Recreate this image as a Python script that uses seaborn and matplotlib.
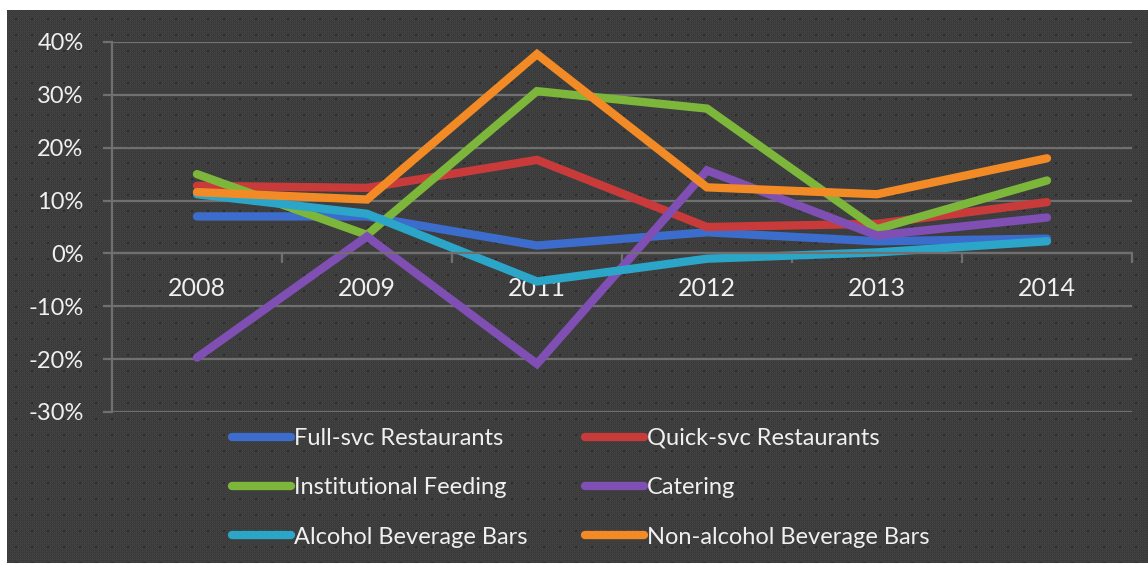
import matplotlib
matplotlib.use("Agg")
import matplotlib.pyplot as plt
from matplotlib.ticker import FixedLocator, FuncFormatter
import numpy as np
import pandas as pd
import seaborn as sns

# Year-over-year growth (%) by food-service segment
years = ["2008", "2009", "2011", "2012", "2013", "2014"]
full_svc = [7.0, 7.0, 1.5, 4.0, 2.3, 2.8]
quick_svc = [12.8, 12.4, 17.7, 5.0, 5.6, 9.7]
institutional = [15.0, 3.5, 30.7, 27.4, 4.6, 13.8]
catering = [-19.7, 3.2, -20.9, 15.7, 3.4, 6.8]
alcohol_bars = [11.2, 7.5, -5.3, -1.0, 0.2, 2.3]
non_alcohol_bars = [11.6, 10.2, 37.7, 12.5, 11.2, 18.0]

series_names = ["Full-svc Restaurants", "Quick-svc Restaurants", "Institutional Feeding",
                "Catering", "Alcohol Beverage Bars", "Non-alcohol Beverage Bars"]
series_values = [full_svc, quick_svc, institutional, catering, alcohol_bars, non_alcohol_bars]
series_colors = ["#3d6dcc", "#c93b3b", "#7cb63a", "#7f4fb4", "#2ba6c9", "#f28b26"]
y_ticks = [-30, -20, -10, 0, 10, 20, 30, 40]

rows = []
for name, vals in zip(series_names, series_values):
    for i, (yr, v) in enumerate(zip(years, vals)):
        rows.append({"pos": i, "year": yr, "segment": name, "growth": v})
df = pd.DataFrame(rows)

sns.set_style("dark")
plt.rcParams["font.family"] = ["Lato", "DejaVu Sans"]

W, H = 1148, 563
fig = plt.figure(figsize=(W / 100, H / 100), dpi=100, facecolor="white")

# dark chart area with a fine mesh fill pattern
bw, bh = W - 7, H - 10
bg_ax = fig.add_axes([7 / W, 0, bw / W, bh / H], zorder=-1)
yy, xx = np.mgrid[0:bh, 0:bw]
mesh = np.full((bh, bw), 0.245)
mesh[(xx % 2 == 0) | (yy % 2 == 0)] = 0.25 + 0.005
mesh[(xx % 2 == 0) & (yy % 2 == 0)] = 0.215
mesh[(xx % 2 == 1) ^ (yy % 2 == 1)] = 0.255
dots = ((xx % 16) // 2 == 4) & ((yy % 16) // 2 == 4)
mesh[dots] = 0.17
bg_ax.imshow(mesh, cmap="gray", vmin=0, vmax=1, interpolation="nearest",
             aspect="auto", extent=(0, 1, 0, 1))
bg_ax.set_xticks([])
bg_ax.set_yticks([])
for s in bg_ax.spines.values():
    s.set_visible(False)

ax = fig.add_axes([112 / W, 1 - 412 / H, 1020 / W, 370 / H], zorder=1)
ax.set_facecolor("none")

palette = dict(zip(series_names, series_colors))
sns.lineplot(data=df, x="pos", y="growth", hue="segment", hue_order=series_names,
             palette=palette, linewidth=6, ax=ax, legend=True, sort=False,
             solid_capstyle="round", solid_joinstyle="miter")

grid_col = "#707070"
txt_col = "#f0f0f0"
ax.set_xlim(-0.5, len(years) - 0.5)
ax.set_ylim(y_ticks[0], y_ticks[-1])
ax.set_xlabel("")
ax.set_ylabel("")

ax.yaxis.set_major_locator(FixedLocator(y_ticks))
ax.yaxis.set_major_formatter(FuncFormatter(lambda v, p: f"{v:.0f}%"))
ax.grid(axis="y", color=grid_col, linewidth=1.6, zorder=0.5)
ax.grid(axis="x", visible=False)
ax.set_axisbelow(True)

ax.set_xticks(range(len(years)))
ax.set_xticklabels(years)
ax.set_xticks(np.arange(-0.5, len(years), 1.0), minor=True)

for s in ["top", "right"]:
    ax.spines[s].set_visible(False)
ax.spines["left"].set_color(grid_col)
ax.spines["left"].set_linewidth(1.6)
ax.spines["bottom"].set_position(("data", 0))
ax.spines["bottom"].set_color(grid_col)
ax.spines["bottom"].set_linewidth(1.6)

ax.tick_params(axis="y", which="major", length=6.5, width=1.6, color=grid_col,
               pad=14, labelsize=17, labelcolor=txt_col, left=True)
ax.tick_params(axis="x", which="major", length=0, pad=17, labelsize=18, labelcolor=txt_col)
ax.tick_params(axis="x", which="minor", length=7, width=1.6, color=grid_col,
               direction="out", bottom=True)

handles, labels = ax.get_legend_handles_labels()
ax.get_legend().remove()
hmap = dict(zip(labels, handles))
for h in handles:
    h.set_linewidth(6)

leg_kw = dict(frameon=False, loc="upper left", borderpad=0, borderaxespad=0,
              handlelength=2.5, handletextpad=0.12, labelspacing=1.2,
              fontsize=17, labelcolor=txt_col)
col1 = ["Full-svc Restaurants", "Institutional Feeding", "Alcohol Beverage Bars"]
col2 = ["Quick-svc Restaurants", "Catering", "Non-alcohol Beverage Bars"]
fig.legend([hmap[n] for n in col1], col1, bbox_to_anchor=(232 / W, 1 - 428 / H), **leg_kw)
fig.legend([hmap[n] for n in col2], col2, bbox_to_anchor=(585 / W, 1 - 428 / H), **leg_kw)

fig.savefig("out.png", dpi=100, facecolor="white")
